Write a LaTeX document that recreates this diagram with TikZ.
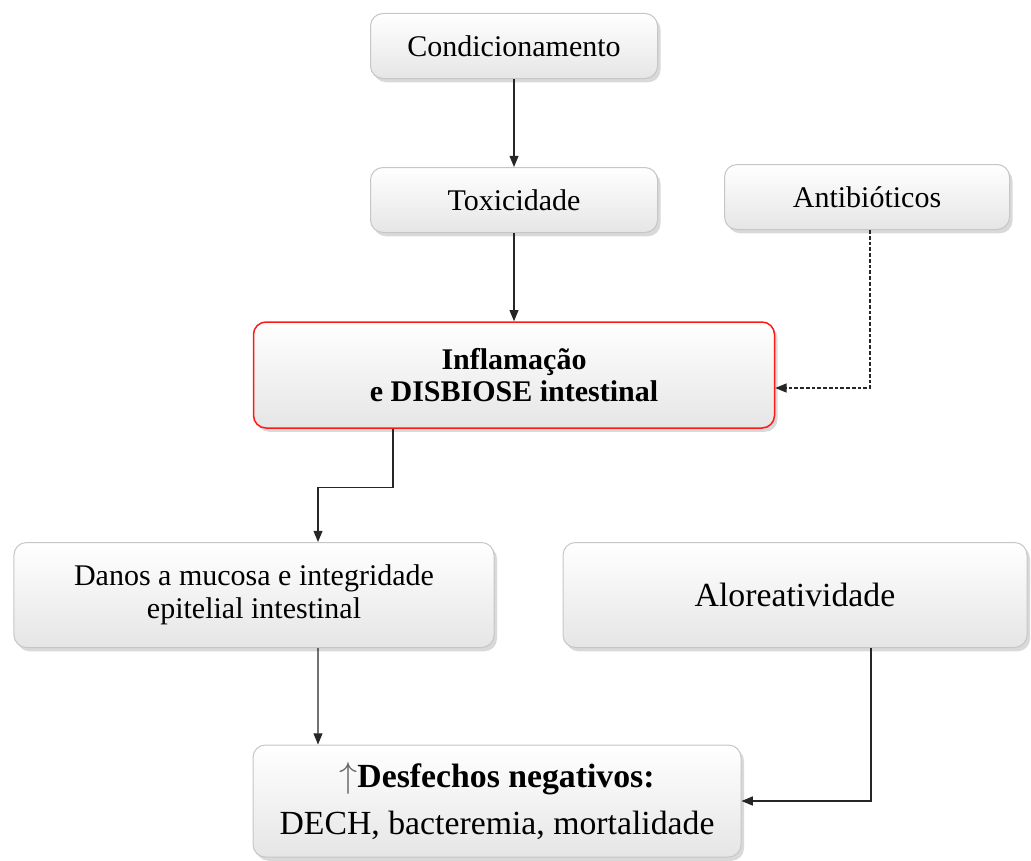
\documentclass[tikz,border=0pt]{standalone}
\usepackage{fontspec}
\setmainfont{Liberation Serif}
\usetikzlibrary{arrows.meta,shadows,positioning}
\begin{document}
\begin{tikzpicture}[x=0.4pt,y=-0.4pt,
	caixa/.style={draw=gray!45, line width=0.4pt, rounded corners=5pt, top color=white, bottom color=gray!20,
		drop shadow={shadow xshift=1.2pt,shadow yshift=-1.5pt,opacity=0.3}, align=center, inner sep=2pt,
		font=\fontsize{12}{13}\selectfont},
	seta/.style={-{Triangle[length=4.5pt,width=3.6pt]}, black!85, line width=0.45pt}]
	\useasboundingbox (0,0) rectangle (1031,860);

	\node[caixa, minimum width=114.8pt, minimum height=26pt] (cond) at (514,46) {Condicionamento};
	\node[caixa, minimum width=114.8pt, minimum height=26pt] (tox) at (514,200) {Toxicidade};
	\node[caixa, minimum width=114pt, minimum height=26pt] (antib) at (867,197) {Antibióticos};
	\node[caixa, draw=red!90, line width=0.6pt, minimum width=208.4pt, minimum height=42.4pt] (infl) at (514,375) {\textbf{Inflamação}\\\textbf{e DISBIOSE intestinal}};
	\node[caixa, minimum width=192pt, minimum height=42pt] (danos) at (254,595) {Danos a mucosa e integridade\\epitelial intestinal};
	\node[caixa, font=\fontsize{13.5}{15}\selectfont, minimum width=185.6pt, minimum height=42pt] (alore) at (795,595) {Aloreatividade};
	\node[caixa, font=\fontsize{13.5}{18.8}\selectfont, minimum width=195.2pt, minimum height=44.8pt] (desf) at (497,801) {\textcolor{black!60}{$\uparrow$}\textbf{Desfechos negativos:}\\DECH, bacteremia, mortalidade};

	\draw[seta] (cond) -- (tox);
	\draw[seta] (tox) -- (infl);
	\draw[seta, dash pattern=on 1.5pt off 0.8pt] ([xshift=1.2pt]antib.south) |- ([yshift=-5.2pt]infl.east);
	\draw[seta] ([xshift=-48.4pt]infl.south) -- ++(0,59) -| ([xshift=25.6pt]danos.north);
	\draw[seta] ([xshift=25.6pt]danos.south) -- ([xshift=-71.6pt]desf.north);
	\draw[seta] ([xshift=30.4pt]alore.south) |- (desf.east);
\end{tikzpicture}
\end{document}
